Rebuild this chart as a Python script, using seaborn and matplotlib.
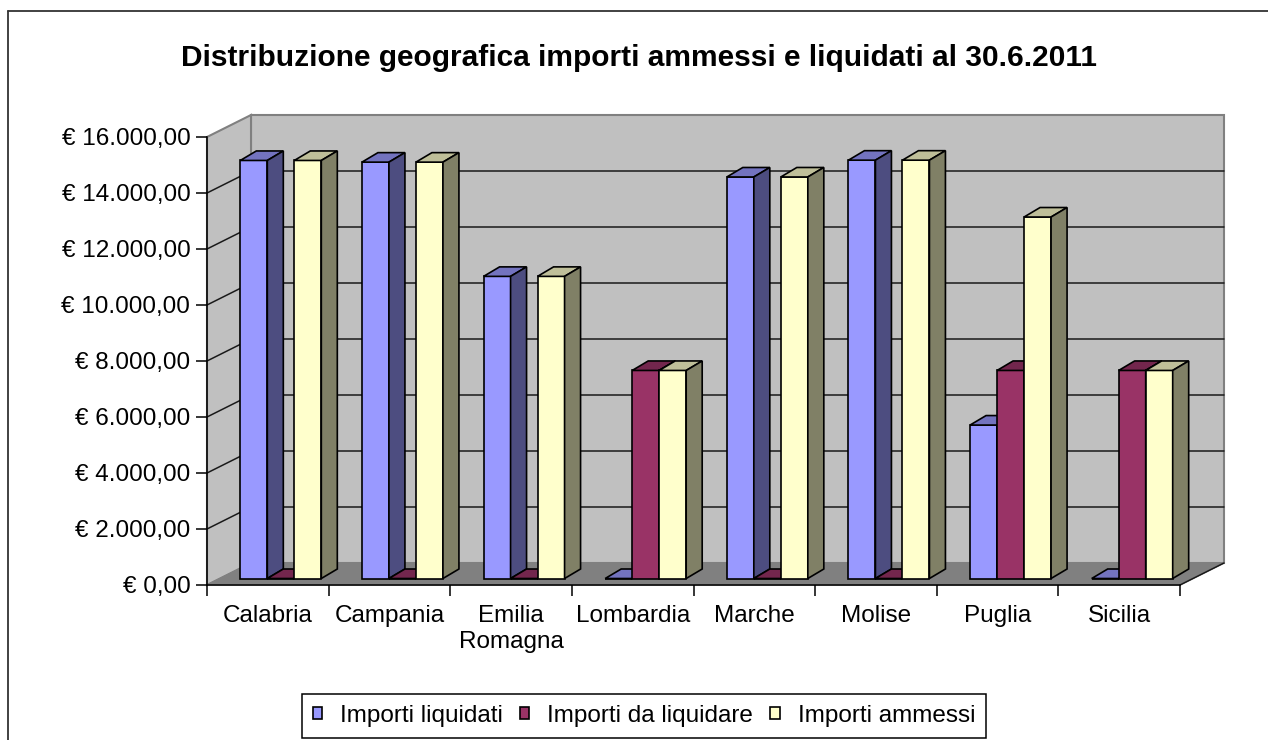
import matplotlib
matplotlib.use("Agg")
import matplotlib.pyplot as plt
from matplotlib.lines import Line2D
from matplotlib.patches import Patch, Polygon, Rectangle
import numpy as np
import pandas as pd
import seaborn as sns

# Data
REGIONI = ["Calabria", "Campania", "Emilia\nRomagna", "Lombardia",
           "Marche", "Molise", "Puglia", "Sicilia"]
LIQUIDATI = [14930, 14870, 10790, 0, 14340, 14940, 5480, 0]
DA_LIQUIDARE = [0, 0, 0, 7430, 0, 0, 7430, 7430]
AMMESSI = [14930, 14870, 10790, 7430, 14340, 14940, 12910, 7430]
SERIE = ["Importi liquidati", "Importi da liquidare", "Importi ammessi"]
Y_TICKS = [0, 2000, 4000, 6000, 8000, 10000, 12000, 14000, 16000]
TITOLO = "Distribuzione geografica importi ammessi e liquidati al 30.6.2011"

# Excel-like 3D colours: front, top, side
FRONT = ["#9999FF", "#993366", "#FFFFCC"]
TOP = ["#7373BF", "#73264D", "#BFBF99"]
SIDE = ["#4D4D80", "#4D1A33", "#808066"]
WALL = "#C0C0C0"
FLOOR = "#808080"

# 3D offsets in pixels (x right, y up)
WALL_PX = (44, 22)
PLANE_PX = (13, 6.5)
DEPTH_PX = (16, 9.5)
FONT = 17.5

sns.set_style("white")
plt.rcParams["font.family"] = ["Liberation Sans", "DejaVu Sans"]
plt.rcParams["text.color"] = "black"
plt.rcParams["xtick.labelcolor"] = "black"
plt.rcParams["ytick.labelcolor"] = "black"


def euro(v):
  s = f"{v:,.2f}".replace(",", "X").replace(".", ",").replace("X", ".")
  return f"€ {s}"


df = pd.DataFrame({"Regione": REGIONI, SERIE[0]: LIQUIDATI,
                   SERIE[1]: DA_LIQUIDARE, SERIE[2]: AMMESSI})
long_df = df.melt(id_vars="Regione", var_name="Serie", value_name="Importo")

W, H = 1268, 740
fig = plt.figure(figsize=(W / 100, H / 100), dpi=100)
ax = fig.add_axes([207 / W, 155 / H, 973 / W, 448 / H])

sns.barplot(data=long_df, x="Regione", y="Importo", hue="Serie",
            order=REGIONI, hue_order=SERIE, palette=FRONT, saturation=1,
            width=0.666, gap=0, edgecolor="black", linewidth=1.2,
            errorbar=None, legend=False, ax=ax)
bar_patches = [p for p in ax.patches if isinstance(p, Rectangle)]

xl, xr = -0.5, len(REGIONI) - 0.5
ymax = Y_TICKS[-1]
ax.set_xlim(xl, xr)
ax.set_ylim(0, ymax)
ax.patch.set_visible(False)

# pixel -> data conversion
ux = ax.bbox.width / (xr - xl)
uy = ax.bbox.height / ymax


def off(px, py):
  return px / ux, py / uy


# walls, floor and gridlines
wx, wy = off(*WALL_PX)
ax.add_patch(Rectangle((xl + wx, wy), xr - xl, ymax, fc=WALL, ec=FLOOR,
                       lw=1.5, zorder=0.5, clip_on=False))
ax.add_patch(Polygon([(xl, 0), (xl + wx, wy), (xl + wx, ymax + wy), (xl, ymax)],
                     fc=WALL, ec=FLOOR, lw=1.5, zorder=0.5, clip_on=False))
ax.add_patch(Polygon([(xl, 0), (xr, 0), (xr + wx, wy), (xl + wx, wy)],
                     fc=FLOOR, ec=FLOOR, lw=1, zorder=0.5, clip_on=False))
for v in Y_TICKS[1:-1]:
  ax.plot([xl + wx, xr + wx], [v + wy, v + wy], color="#1a1a1a", lw=1.1,
          zorder=0.6, clip_on=False)
  ax.plot([xl, xl + wx], [v, v + wy], color="#1a1a1a", lw=1.1,
          zorder=0.6, clip_on=False)
ax.plot([xr, xr + wx], [0, wy], color="#1a1a1a", lw=1.1, zorder=0.6,
        clip_on=False)

# 3D bars built from the seaborn patches
px_, py_ = off(*PLANE_PX)
dx, dy = off(*DEPTH_PX)
colour_idx = {matplotlib.colors.to_hex(c).lower(): i for i, c in enumerate(FRONT)}
bars = sorted(bar_patches, key=lambda p: p.get_x())
bars = [b for b in bars if matplotlib.colors.to_hex(b.get_facecolor()) in colour_idx]
for k, p in enumerate(bars):
  i = colour_idx[matplotlib.colors.to_hex(p.get_facecolor())]
  x0 = p.get_x() + px_
  y0 = p.get_y() + py_
  w = p.get_width()
  h = p.get_height()
  z = 2 + k * 0.01
  p.set_x(x0)
  p.set_y(y0)
  p.set_zorder(z)
  p.set_clip_on(False)
  ax.add_patch(Polygon([(x0, y0 + h), (x0 + w, y0 + h),
                        (x0 + w + dx, y0 + h + dy), (x0 + dx, y0 + h + dy)],
                       fc=TOP[i], ec="black", lw=1.2, zorder=z + 0.001,
                       clip_on=False))
  ax.add_patch(Polygon([(x0 + w, y0), (x0 + w + dx, y0 + dy),
                        (x0 + w + dx, y0 + h + dy), (x0 + w, y0 + h)],
                       fc=SIDE[i], ec="black", lw=1.2, zorder=z + 0.002,
                       clip_on=False))

# axes, ticks, labels
for s in ["top", "right"]:
  ax.spines[s].set_visible(False)
for s in ["left", "bottom"]:
  ax.spines[s].set_color("black")
  ax.spines[s].set_linewidth(1.1)
  ax.spines[s].set_zorder(3)
ax.set_yticks(Y_TICKS)
ax.set_yticklabels([euro(v) for v in Y_TICKS])
ax.set_xticks(range(len(REGIONI)))
ax.set_xticklabels(REGIONI)
ax.set_xticks(np.arange(xl, xr + 0.5), minor=True)
ax.tick_params(axis="x", which="major", length=0, pad=14.5, labelsize=FONT,
               labelcolor="black")
ax.tick_params(axis="x", which="minor", length=8, width=1.1, color="black",
               direction="out", bottom=True)
ax.tick_params(axis="y", length=8, width=1.1, color="black", pad=4,
               labelsize=FONT, direction="out", left=True, labelcolor="black")
for t in ax.get_xticklabels():
  t.set_linespacing(1.22)
ax.set_xlabel("")
ax.set_ylabel("")

fig.text(639 / W, 1 - 58 / H, TITOLO, ha="center", va="center",
         fontsize=21.5, fontweight="bold", color="black")

# outer chart frame
fig.add_artist(Line2D([8 / W, 8 / W], [0, 1 - 11 / H], color="#333333",
                      lw=1.3, transform=fig.transFigure))
fig.add_artist(Line2D([8 / W, 1], [1 - 11 / H, 1 - 11 / H], color="#333333",
                      lw=1.3, transform=fig.transFigure))

handles = [Patch(facecolor=c, edgecolor="black", lw=1.2) for c in FRONT]
leg = fig.legend(handles, SERIE, loc="center",
                 bbox_to_anchor=(644 / W, 1 - 716 / H), ncol=3,
                 frameon=True, fancybox=False, edgecolor="black",
                 framealpha=1, fontsize=FONT, handlelength=0.38,
                 handleheight=0.4, handletextpad=0.75, columnspacing=0.7,
                 borderpad=0.45, borderaxespad=0)
leg.get_frame().set_linewidth(1.1)
for t in leg.get_texts():
  t.set_color("black")

fig.savefig("out.png", dpi=100)
